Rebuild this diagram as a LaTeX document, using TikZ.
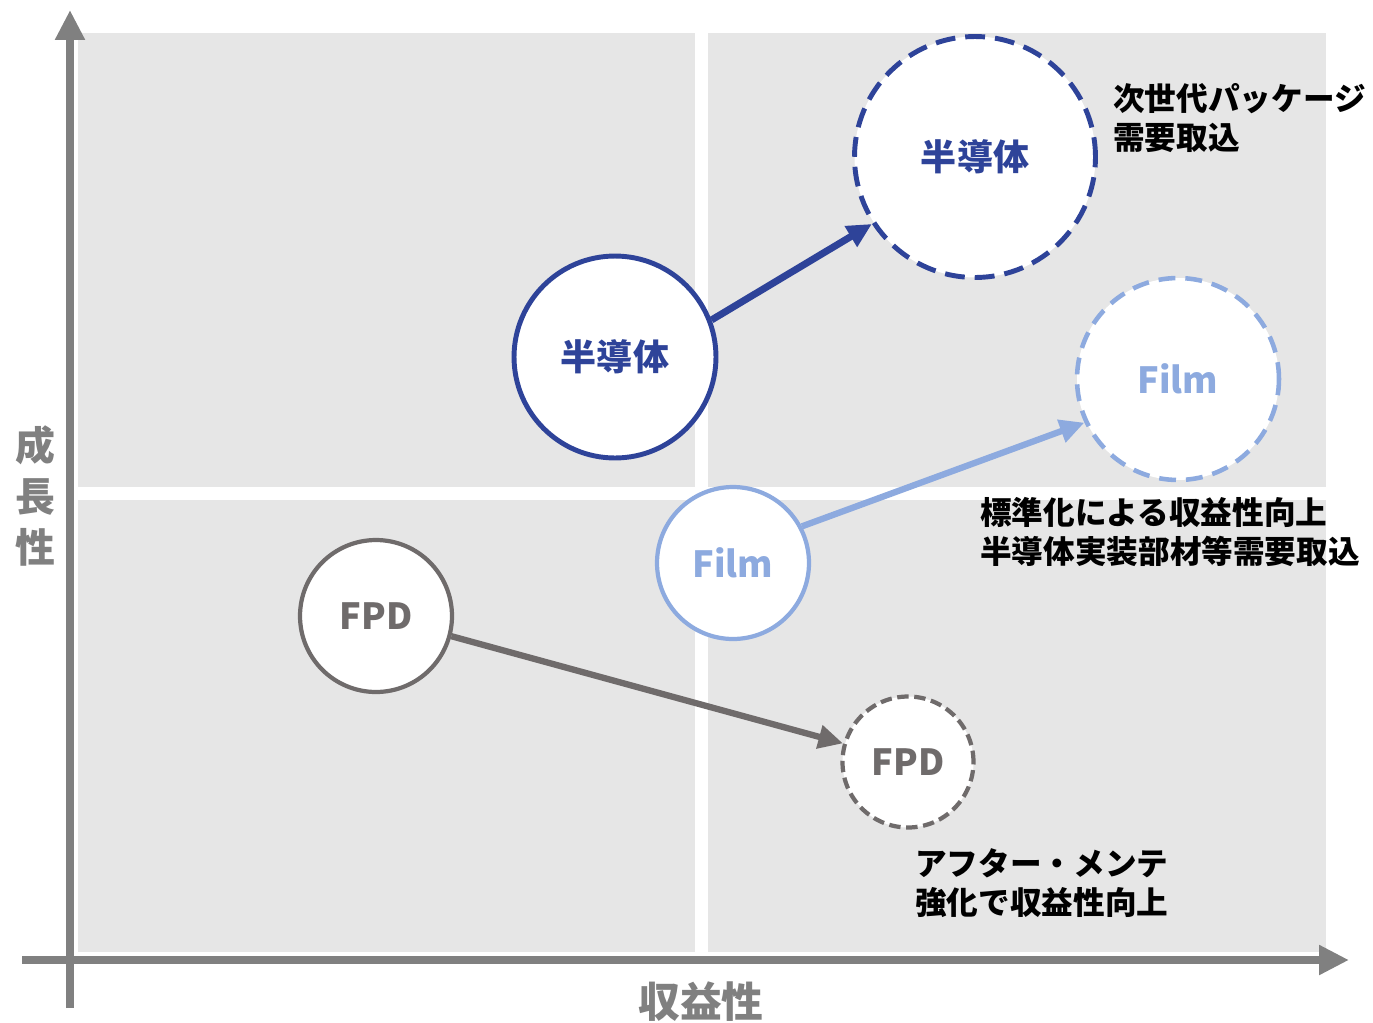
\documentclass[tikz,border=0pt]{standalone}
\usepackage{fontspec}
\setmainfont{Noto Sans CJK JP}
\usepackage{tikz}
\usetikzlibrary{arrows.meta}
\definecolor{semiblue}{HTML}{2E4399}
\definecolor{filmblue}{HTML}{8DAADF}
\definecolor{fpdgray}{HTML}{6F6B6B}
\definecolor{axisgray}{HTML}{808080}
\definecolor{quadgray}{HTML}{E6E6E6}

\begin{document}
\begin{tikzpicture}[x=0.02cm, y=-0.02cm,
	every node/.style={font=\bfseries},
	quad/.style={fill=quadgray, draw=none},
	bubble/.style={circle, fill=white, inner sep=0pt, font=\fontsize{20.5pt}{24pt}\selectfont\bfseries},
	axis/.style={axisgray, line width=5pt, -{Triangle[length=17pt, width=16pt]}},
	move/.style={line width=4pt, -{Triangle[length=14pt, width=13pt]}},
	note/.style={anchor=west, inner sep=0pt, align=left, font=\fontsize{18pt}{22pt}\selectfont\bfseries}]
	\useasboundingbox (0,0) rectangle (1373,1022);
	% quadrants
	\fill[quad] (78,33) rectangle (695,487);
	\fill[quad] (708,33) rectangle (1326,487);
	\fill[quad] (78,500) rectangle (695,952);
	\fill[quad] (708,500) rectangle (1326,952);
	% axes
	\coordinate (ybot) at (70,1008); \coordinate (ytop) at (70,10);
	\coordinate (xleft) at (22,960); \coordinate (xright) at (1349,960);
	\draw[axis] (ybot) -- (ytop);
	\draw[axis] (xleft) -- (xright);
	\node[axisgray, align=center, font=\fontsize{22.7pt}{29pt}\selectfont\bfseries] (ylab) at (35,496) {成\\長\\性};
	\node[axisgray, font=\fontsize{23.8pt}{28pt}\selectfont\bfseries] (xlab) at (701,1002) {収益性};
	% semiconductor
	\node[bubble, draw=semiblue, line width=2.8pt, minimum size=4.04cm, text=semiblue] (semiA) at (615,357) {半導体};
	\node[bubble, draw=semiblue, line width=2.8pt, dash pattern=on 11.3pt off 5.7pt, minimum size=4.82cm, text=semiblue] (semiB) at (975,157) {半導体};
	\draw[move, semiblue] (semiA.21) -- (semiB.213);
	\node[note] (semiNote) at (1113,118) {次世代パッケージ\\需要取込};
	% film
	\node[bubble, draw=filmblue, line width=2.4pt, minimum size=3.04cm, text=filmblue] (filmA) at (733,563) {Film};
	\node[bubble, draw=filmblue, line width=2.6pt, dash pattern=on 9.6pt off 5.7pt, minimum size=4.04cm, text=filmblue] (filmB) at (1178,379) {Film};
	\draw[move, filmblue, line width=3.6pt] (filmA.28) -- (filmB.205);
	\node[note] (filmNote) at (980,532) {標準化による収益性向上\\半導体実装部材等需要取込};
	% FPD
	\node[bubble, draw=fpdgray, line width=2.4pt, minimum size=3.04cm, text=fpdgray] (fpdA) at (376,616) {FPD};
	\node[bubble, draw=fpdgray, line width=2.4pt, dash pattern=on 6.5pt off 3.2pt, minimum size=2.62cm, text=fpdgray] (fpdB) at (908,762) {FPD};
	\draw[move, fpdgray, line width=3.6pt] (fpdA.-15) -- (fpdB.164);
	\node[note] (fpdNote) at (915,883) {アフター・メンテ\\強化で収益性向上};
\end{tikzpicture}
\end{document}
